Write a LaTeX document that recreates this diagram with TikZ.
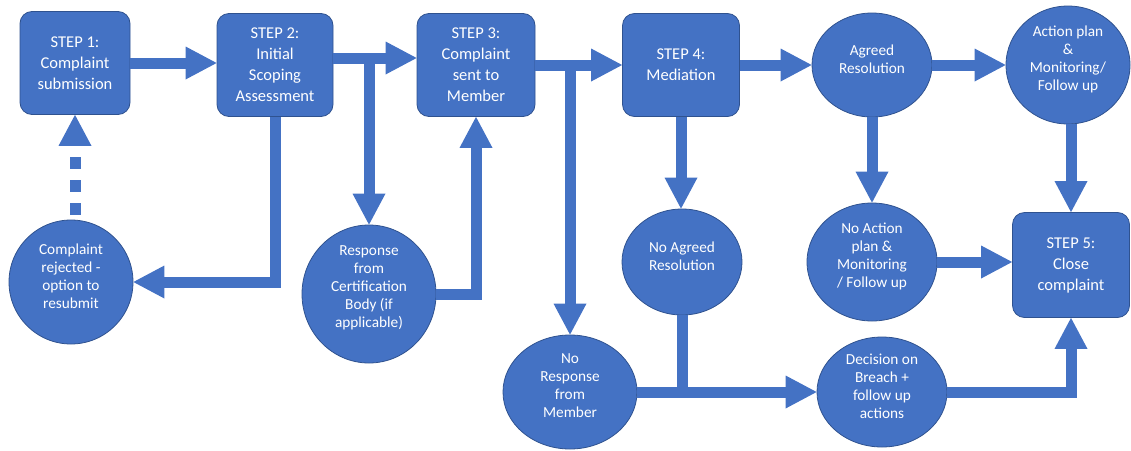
\documentclass[tikz,border=0pt]{standalone}
\usepackage{fontspec}
\setmainfont{Carlito}
\usetikzlibrary{arrows.meta,shapes.geometric}
\definecolor{officeblue}{HTML}{4472C4}
\definecolor{edgeblue}{HTML}{2F528F}
\tikzset{
  stepbox/.style={draw=edgeblue, line width=0.8pt, fill=officeblue, rounded corners=12pt,
    inner sep=0pt, text=white, align=center, font=\fontsize{16.5}{21}\selectfont},
  disc/.style={ellipse, draw=edgeblue, line width=0.8pt, fill=officeblue, inner sep=0pt},
  disctext/.style={text=white, align=center, inner sep=0pt, font=\fontsize{15.3}{18}\selectfont},
  flow/.style={officeblue, line width=11pt, -{Triangle[width=33pt,length=31pt,line width=0pt]}},
  link/.style={officeblue, line width=11pt},
}

\begin{document}
\begin{tikzpicture}[x=1pt,y=-1pt]
\useasboundingbox (0,0) rectangle (1131,450);
% steps
\node[stepbox, minimum width=110pt, minimum height=103pt] (step1) at (75,63) {STEP 1:\\Complaint\\submission};
\node[stepbox, minimum width=116pt, minimum height=103pt] (step2) at (275,65) {STEP 2:\\Initial\\Scoping\\Assessment};
\node[stepbox, minimum width=118pt, minimum height=103pt] (step3) at (476,65) {STEP 3:\\Complaint\\sent to\\Member};
\node[stepbox, minimum width=117pt, minimum height=103pt] (step4) at (681,65) {STEP 4:\\Mediation};
\node[stepbox, minimum width=117pt, minimum height=105pt] (step5) at (1071,265) {STEP 5:\\Close\\complaint};
% outcomes
\node[disc, minimum width=124pt, minimum height=124pt] (reject) at (71,282) {};
\node[disc, minimum width=134pt, minimum height=138pt] (resp) at (369,294) {};
\node[disc, minimum width=134pt, minimum height=114pt] (norsp) at (570,392) {};
\node[disc, minimum width=120pt, minimum height=106pt] (noagr) at (682,262) {};
\node[disc, minimum width=120pt, minimum height=104pt] (agreed) at (872,65) {};
\node[disc, minimum width=124pt, minimum height=118pt] (action) at (1068,65) {};
\node[disc, minimum width=130pt, minimum height=118pt] (noact) at (872,262) {};
\node[disc, minimum width=130pt, minimum height=110pt] (decis) at (882,392) {};
\node[disctext] (rejecttxt) at ([yshift=6pt]reject.center) {Complaint\\rejected -\\option to\\resubmit};
\node[disctext] (resptxt) at ([yshift=6pt]resp.center) {Response\\from\\Certification\\Body (if\\applicable)};
\node[disctext] (norsptxt) at ([yshift=6pt]norsp.center) {No\\Response\\from\\Member};
\node[disctext] (noagrtxt) at ([yshift=6pt]noagr.center) {No Agreed\\Resolution};
\node[disctext] (agreedtxt) at ([yshift=6pt]agreed.center) {Agreed\\Resolution};
\node[disctext] (actiontxt) at ([yshift=6pt]action.center) {Action plan\\\&\\Monitoring/\\Follow up};
\node[disctext] (noacttxt) at ([yshift=6pt]noact.center) {No Action\\plan \&\\Monitoring\\/ Follow up};
\node[disctext] (decistxt) at ([yshift=6pt]decis.center) {Decision on\\Breach +\\follow up\\actions};
% forks
\coordinate (fork2) at ([yshift=7pt]step2.east);
\coordinate (fork3) at (step3.east);
% connectors
\draw[flow] (step1.east) -- (step1.east -| step2.west);
\draw[flow] (fork2) -- (fork2 -| step3.west);
\draw[flow] (fork2 -| resp.north) -- (resp.north);
\draw[flow] (step2.south) |- (reject.east);
\draw[flow, dash pattern=on 11.5pt off 11.5pt, dash phase=18pt] (reject.north -| step1.south) -- (step1.south);
\draw[flow] (resp.east) -| (step3.south);
\draw[flow] (fork3) -- (fork3 -| step4.west);
\draw[flow] (fork3 -| norsp.north) -- (norsp.north);
\draw[flow] (step4.east) -- (agreed.west);
\draw[flow] (step4.south) -- (step4.south |- noagr.north);
\draw[flow] (agreed.east) -- (action.west);
\draw[flow] (agreed.south) -- (noact.north);
\draw[flow] (action.south -| step5.north) -- (step5.north);
\draw[flow] (noact.east) -- (noact.east -| step5.west);
\draw[link] (noagr.south) -- (noagr.south |- norsp.east);
\draw[flow] (norsp.east) -- (decis.west);
\draw[flow] (decis.east) -| (step5.south);
\end{tikzpicture}
\end{document}
